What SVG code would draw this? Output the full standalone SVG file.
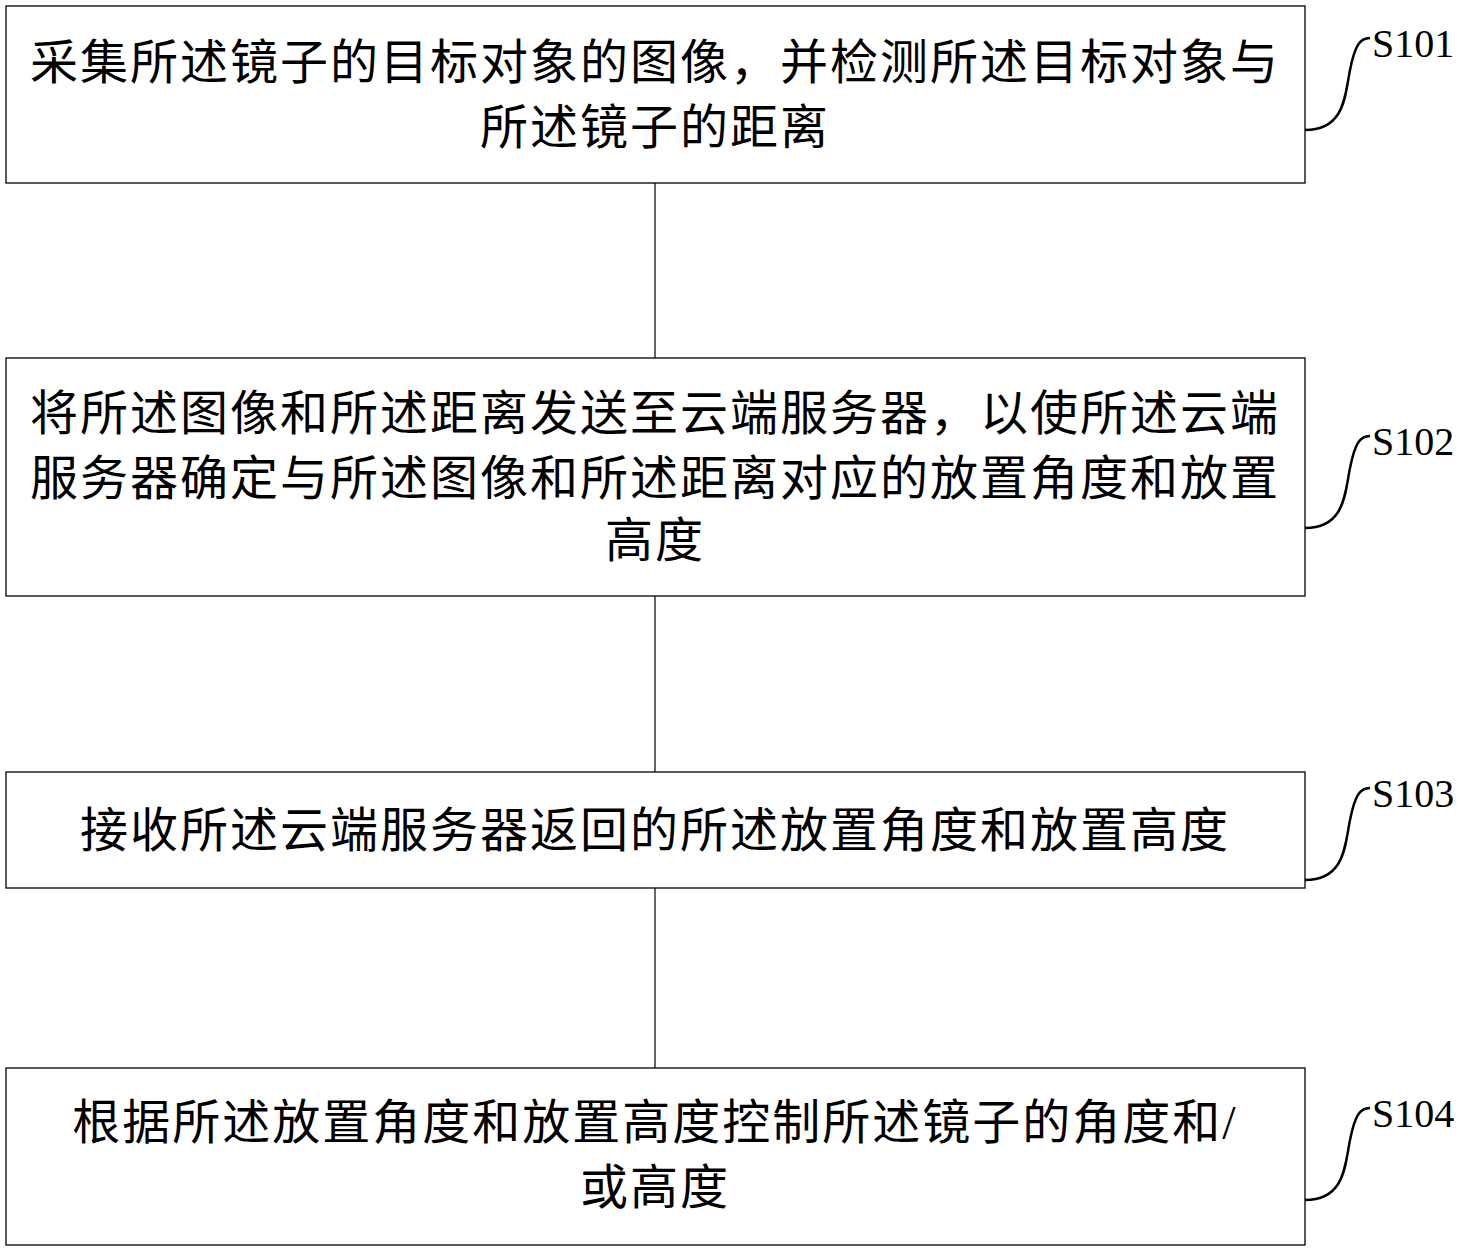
<svg xmlns="http://www.w3.org/2000/svg" width="1477" height="1250" viewBox="0 0 1477 1250">
<style>
.b{fill:#fff;stroke:#000;stroke-width:1.3}
.t{font-family:"Liberation Serif","Noto Sans CJK SC",serif;font-size:48px;letter-spacing:2px;text-anchor:middle;fill:#000}
.l{font-family:"Liberation Serif",serif;font-size:40px;fill:#000}
.c{fill:none;stroke:#000;stroke-width:2.5}
.e{stroke:#000;stroke-width:1.2}
</style>
<rect width="1477" height="1250" fill="#fff"/>
<g id="connectors">
<line class="e" x1="655" y1="183" x2="655" y2="358"/>
<line class="e" x1="655" y1="596" x2="655" y2="772"/>
<line class="e" x1="655" y1="888" x2="655" y2="1068"/>
</g>
<g id="n1"><rect class="b" x="6" y="6" width="1299" height="177"/>
<text class="t" x="655" y="79">采集所述镜子的目标对象的图像，并检测所述目标对象与</text>
<text class="t" x="655" y="144">所述镜子的距离</text>
<path class="c" d="M1305,130 C1345,130 1345,95 1350,70 C1355,45 1360,38 1370,38"/>
<text class="l" x="1372" y="57">S101</text></g>
<g id="n2"><rect class="b" x="6" y="358" width="1299" height="238"/>
<text class="t" x="655" y="430">将所述图像和所述距离发送至云端服务器，以使所述云端</text>
<text class="t" x="655" y="495">服务器确定与所述图像和所述距离对应的放置角度和放置</text>
<text class="t" x="655" y="557">高度</text>
<path class="c" d="M1305,528 C1345,528 1345,493 1350,468 C1355,443 1360,436 1370,436"/>
<text class="l" x="1372" y="455">S102</text></g>
<g id="n3"><rect class="b" x="6" y="772" width="1299" height="116"/>
<text class="t" x="655" y="847">接收所述云端服务器返回的所述放置角度和放置高度</text>
<path class="c" d="M1305,880 C1345,880 1345,845 1350,820 C1355,795 1360,788 1370,788"/>
<text class="l" x="1372" y="807">S103</text></g>
<g id="n4"><rect class="b" x="6" y="1068" width="1299" height="177"/>
<text class="t" x="655" y="1139">根据所述放置角度和放置高度控制所述镜子的角度和/</text>
<text class="t" x="655" y="1204">或高度</text>
<path class="c" d="M1305,1200 C1345,1200 1345,1165 1350,1140 C1355,1115 1360,1108 1370,1108"/>
<text class="l" x="1372" y="1127">S104</text></g>
</svg>
